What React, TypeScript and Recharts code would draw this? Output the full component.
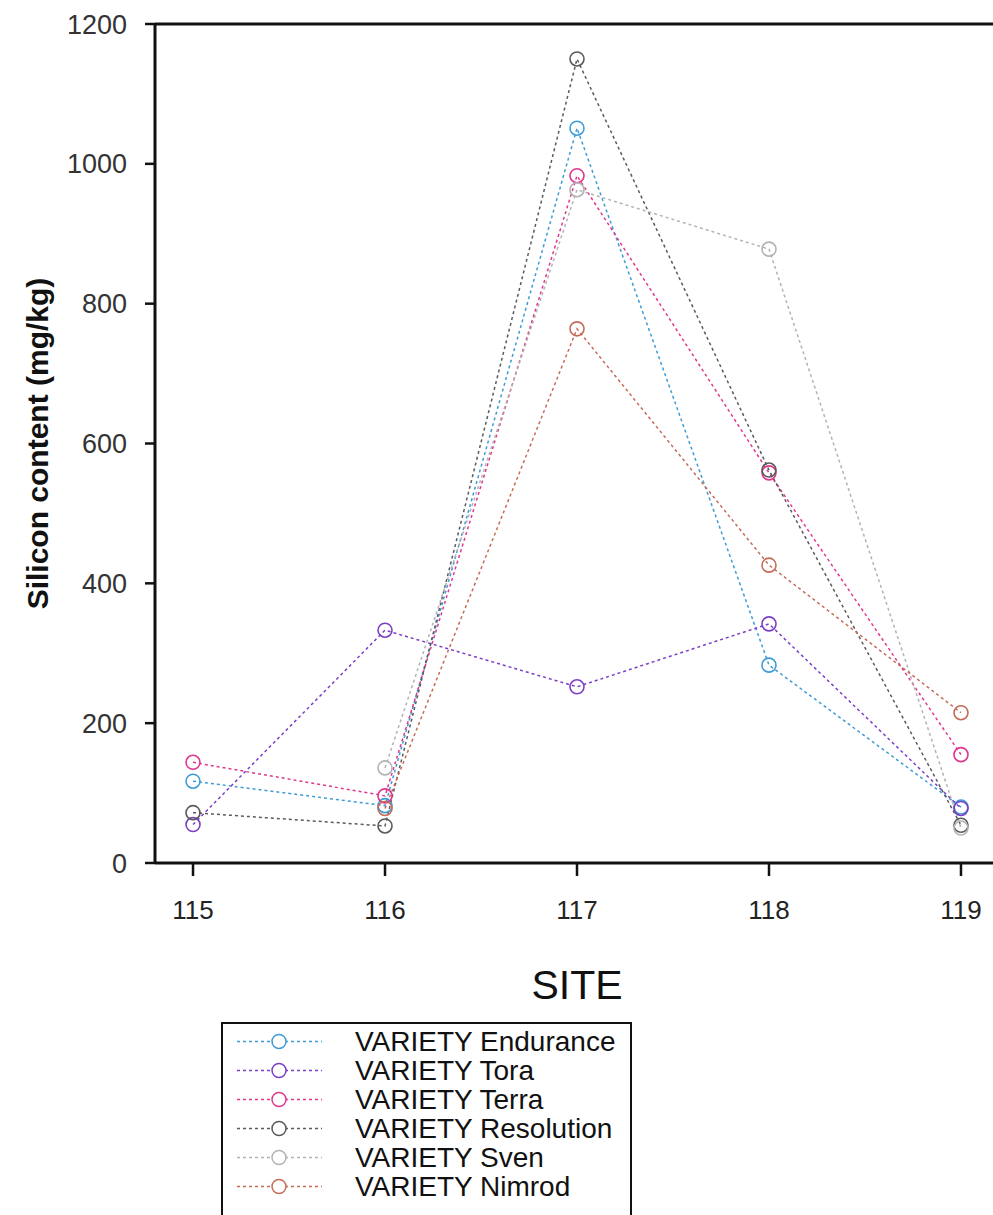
import { LineChart, Line, XAxis, YAxis, ReferenceLine, Legend } from 'recharts'

const FONT = '"Liberation Sans", Arial, Helvetica, sans-serif'

const sites = [115, 116, 117, 118, 119]
const yTicks = [0, 200, 400, 600, 800, 1000, 1200]

const varieties = ['Endurance', 'Tora', 'Terra', 'Resolution', 'Sven', 'Nimrod']
const colors = ['#3f9bd6', '#7b3fc6', '#e0388f', '#5a5a5a', '#b3b3b3', '#c56c58']

// silicon content (mg/kg) per site, one list per variety
const endurance = [117, 82, 1051, 283, 80]
const tora = [55, 333, 252, 342, 78]
const terra = [144, 96, 983, 558, 155]
const resolution = [72, 53, 1150, 562, 54]
const sven = [null, 136, 963, 878, 50]
const nimrod = [null, 78, 764, 426, 215]

const seriesValues = [endurance, tora, terra, resolution, sven, nimrod]

const data = sites.map((site, i) => {
  const row: Record<string, number | null> = { site }
  varieties.forEach((v, k) => {
    row[v] = seriesValues[k][i]
  })
  return row
})

// legend keeps the variety order (recharts would sort it by name)
function VarietyLegend() {
  return (
    <div
      style={{
        border: '2px solid #111',
        width: 411,
        height: 200,
        boxSizing: 'border-box',
        paddingTop: 3,
        background: '#fff',
      }}
    >
      {varieties.map((v, k) => (
        <div key={v} style={{ display: 'flex', alignItems: 'center', height: 29 }}>
          <svg width={120} height={29} style={{ flex: 'none' }}>
            <line x1={14} x2={99} y1={14.5} y2={14.5} stroke={colors[k]} strokeWidth={1.5} strokeDasharray="3 3" />
            <circle cx={56} cy={14.5} r={7} fill="#fff" stroke={colors[k]} strokeWidth={1.5} />
          </svg>
          <span
            style={{
              marginLeft: 12,
              fontFamily: FONT,
              fontSize: 28,
              color: '#111',
              whiteSpace: 'nowrap',
              lineHeight: '29px',
            }}
          >
            VARIETY {v}
          </span>
        </div>
      ))}
    </div>
  )
}

function YTitle(props: any) {
  const vb = props.viewBox
  const cx = vb.x - 58
  const cy = vb.y + vb.height / 2
  return (
    <text
      x={cx}
      y={cy}
      transform={`rotate(-90, ${cx}, ${cy})`}
      textAnchor="middle"
      dominantBaseline="central"
      fontFamily={FONT}
      fontWeight="bold"
      fontSize={30}
      fill="#111"
    >
      Silicon content (mg/kg)
    </text>
  )
}

function XTitle(props: any) {
  const vb = props.viewBox
  return (
    <text
      x={vb.x + vb.width / 2}
      y={vb.y + 136}
      textAnchor="middle"
      fontFamily={FONT}
      fontSize={41}
      fill="#111"
    >
      SITE
    </text>
  )
}

export default function App() {
  return (
    <div
      style={{
        position: 'absolute',
        left: 0,
        top: 0,
        width: 993,
        height: 1215,
        overflow: 'hidden',
        background: '#fff',
      }}
    >
      <LineChart
        width={1000}
        height={1215}
        data={data}
        margin={{ top: 24, right: 1, bottom: 292, left: 95 }}
      >
        <XAxis
          dataKey="site"
          type="number"
          domain={[114.802, 119.198]}
          ticks={sites}
          allowDataOverflow
          height={60}
          tickSize={13}
          tickMargin={25}
          axisLine={{ stroke: '#111', strokeWidth: 3 }}
          tickLine={{ stroke: '#111', strokeWidth: 2.5 }}
          tick={{ fill: '#222', fontSize: 26, fontFamily: FONT }}
          label={{ content: XTitle }}
        />
        <YAxis
          domain={[0, 1200]}
          ticks={yTicks}
          width={60}
          tickSize={10}
          tickMargin={18}
          axisLine={{ stroke: '#111', strokeWidth: 3 }}
          tickLine={{ stroke: '#111', strokeWidth: 2.5 }}
          tick={{ fill: '#333', fontSize: 27, fontFamily: FONT }}
          label={{ content: YTitle }}
        />
        <ReferenceLine y={1200} stroke="#111" strokeWidth={3} />
        {varieties.map((v, k) => (
          <Line
            key={v}
            dataKey={v}
            name={v}
            type="linear"
            stroke={colors[k]}
            strokeWidth={1.5}
            strokeDasharray="3 3"
            dot={{ r: 7, fill: 'none', stroke: colors[k], strokeWidth: 1.6, strokeDasharray: '' }}
            activeDot={false}
            connectNulls={false}
            isAnimationActive={false}
          />
        ))}
        <Legend
          layout="vertical"
          align="center"
          verticalAlign="middle"
          content={<VarietyLegend />}
          wrapperStyle={{ left: 221, top: 1022, width: 415 }}
        />
      </LineChart>
    </div>
  )
}
